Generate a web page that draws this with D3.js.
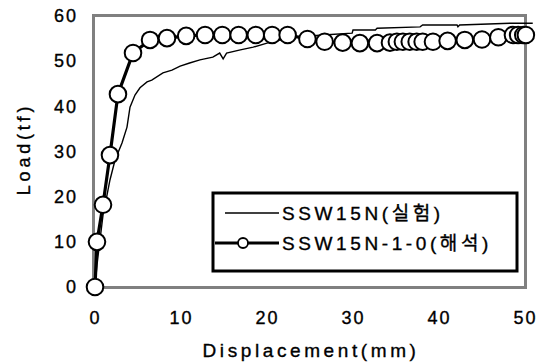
<!DOCTYPE html>
<html>
<head>
<meta charset="utf-8">
<script src="https://cdn.jsdelivr.net/npm/d3@7"></script>
<style>
  html, body { margin: 0; padding: 0; background: #fff; }
  svg { display: block; }
  text { font-family: "Liberation Sans", Arial, "Noto Sans CJK KR", sans-serif; fill: #000; stroke: #000; stroke-width: 0.35px; }
</style>
</head>
<body>
<svg id="chart" width="549" height="363"></svg>
<script>
// ---- data ----
const xTicks = [0, 10, 20, 30, 40, 50];
const yTicks = [0, 10, 20, 30, 40, 50, 60];

// Experimental (실험) curve
const expX = [0, 0.23, 0.58, 0.93, 1.4, 1.74, 2.33, 3.14, 3.72, 4.07, 4.65, 5.23, 6.05, 6.6, 7.9, 8.95, 9.9, 11.0, 12.2, 13.7, 14.5, 14.9, 15.3, 16.9, 18.4, 20.0, 21.5, 23.3, 26.5, 29.9, 30.0, 32.6, 32.8, 37.8, 38.1, 42.1, 42.2, 42.4, 48.3, 50.9];
const expY = [0, 4.9, 10.4, 15.9, 20.4, 23.7, 28.1, 31.9, 35.4, 39.8, 42.5, 44.1, 45.4, 45.8, 47.4, 48.0, 48.9, 49.6, 50.3, 50.9, 51.8, 50.5, 51.8, 52.5, 53.1, 54.0, 54.7, 55.3, 55.8, 56.2, 56.9, 56.9, 57.3, 57.6, 58.0, 58.0, 57.6, 58.0, 58.4, 58.4];

// Analysis (해석) curve
const anaX = [0, 0.23, 0.93, 1.74, 2.67, 4.42, 6.4, 8.37, 10.6, 12.8, 14.8, 16.7, 18.7, 20.6, 22.4, 24.7, 26.7, 28.8, 30.8, 32.8, 34.3, 35.1, 35.8, 36.6, 37.4, 38.1, 39.3, 41.0, 43.0, 45.0, 46.9, 48.6, 49.2, 49.8, 50.1];
const anaY = [0, 10, 18.2, 29.2, 42.7, 51.8, 54.7, 55.1, 55.6, 55.8, 55.8, 55.8, 55.8, 55.8, 55.8, 54.9, 54.3, 54.1, 54.0, 54.0, 54.1, 54.3, 54.3, 54.3, 54.3, 54.3, 54.3, 54.5, 54.7, 54.8, 55.3, 55.8, 55.8, 55.8, 55.8];

const legendLabels = ["SSW15N(실험)", "SSW15N-1-0(해석)"];
const xTitle = "Displacement(mm)";
const yTitle = "Load(tf)";

// ---- drawing ----
const svg = d3.select("#chart");
const x = d3.scaleLinear().domain([0, 50]).range([95, 525]);
const y = d3.scaleLinear().domain([0, 60]).range([287, 16]);

// frame
svg.append("rect")
  .attr("x", x(0) - 1.5).attr("y", y(60) - 0.5)
  .attr("width", x(50) - x(0) + 2).attr("height", y(0) - y(60) + 1)
  .attr("fill", "none").attr("stroke", "#808080").attr("stroke-width", 3);

// axes (labels only)
const xAxis = svg.append("g").attr("transform", `translate(0,${y(0)})`)
  .call(d3.axisBottom(x).tickValues(xTicks).tickSize(0).tickPadding(24));
xAxis.select(".domain").remove();
xAxis.selectAll("text").attr("font-size", 18).attr("letter-spacing", 2)
  .attr("font-family", "'Liberation Sans', Arial, sans-serif");

const yAxis = svg.append("g").attr("transform", `translate(78,0)`)
  .call(d3.axisLeft(y).tickValues(yTicks).tickSize(0).tickPadding(0));
yAxis.select(".domain").remove();
yAxis.selectAll("text").attr("font-size", 18).attr("letter-spacing", 2)
  .attr("font-family", "'Liberation Sans', Arial, sans-serif");

// titles
svg.append("text").attr("x", 311).attr("y", 357).attr("text-anchor", "middle")
  .attr("font-size", 19).attr("letter-spacing", 3.6).text(xTitle);
svg.append("text").attr("transform", "translate(30,149) rotate(-90)")
  .attr("text-anchor", "middle").attr("font-size", 18).attr("letter-spacing", 3.8).text(yTitle);

// experimental line
const expData = expX.map((d, i) => [d, expY[i]]);
svg.append("path").datum(expData)
  .attr("d", d3.line().x(d => x(d[0])).y(d => y(d[1])))
  .attr("fill", "none").attr("stroke", "#000").attr("stroke-width", 1.4);

// analysis line + markers
const anaData = anaX.map((d, i) => [d, anaY[i]]);
svg.append("path").datum(anaData)
  .attr("d", d3.line().x(d => x(d[0])).y(d => y(d[1])))
  .attr("fill", "none").attr("stroke", "#000").attr("stroke-width", 3.2);
svg.append("g").selectAll("circle").data(anaData).join("circle")
  .attr("cx", d => x(d[0])).attr("cy", d => y(d[1])).attr("r", 8.3)
  .attr("fill", "#fff").attr("stroke", "#000").attr("stroke-width", 2);

// legend
const lg = svg.append("g");
lg.append("rect").attr("x", 213).attr("y", 193).attr("width", 304).attr("height", 78)
  .attr("fill", "#fff").attr("stroke", "#000").attr("stroke-width", 3);
lg.append("line").attr("x1", 225).attr("x2", 279).attr("y1", 213).attr("y2", 213)
  .attr("stroke", "#000").attr("stroke-width", 1.4);
lg.append("line").attr("x1", 215).attr("x2", 279).attr("y1", 243).attr("y2", 243)
  .attr("stroke", "#000").attr("stroke-width", 3.2);
lg.append("circle").attr("cx", 243).attr("cy", 243).attr("r", 5)
  .attr("fill", "#fff").attr("stroke", "#000").attr("stroke-width", 1.8);
lg.selectAll("text.lab").data(legendLabels).join("text").attr("class", "lab")
  .attr("x", 282).attr("y", (d, i) => 213 + i * 30).attr("dy", "0.36em")
  .attr("font-size", 19).attr("letter-spacing", 3.6).text(d => d);
</script>
</body>
</html>
